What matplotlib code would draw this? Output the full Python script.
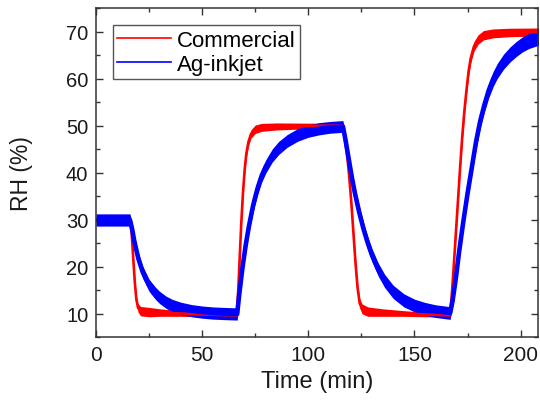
#!/usr/bin/env python
"""
Shows the RH response of a commercial and an Ag-inkjet humidity sensor.
"""
import matplotlib
matplotlib.use('Agg')
import matplotlib.pyplot as plt
from matplotlib.ticker import MultipleLocator
import numpy as np

# Commercial sensor: time / min, RH centre / %, width of the noise band / %
comm_time = [0, 16, 16.8, 17.5, 18.3, 19, 19.8, 21, 25, 30, 40, 50, 66.3,
             67, 67.7, 68.4, 69.2, 70, 70.8, 71.8, 73, 75, 78, 85, 100, 116.3,
             117.3, 118.2, 119.2, 120.2, 121.2, 122.2, 123.2, 124.2, 125.3,
             128, 135, 145, 155, 166.8,
             167.6, 168.5, 169.5, 170.5, 171.5, 172.5, 173.5, 174.5, 175.5,
             176.5, 178, 180, 182.5, 187, 195, 210]
comm_rh = [30, 30, 27, 22, 16.5, 13, 11.2, 10.5, 10.3, 10.2, 10.0, 9.8, 9.6,
           15, 22, 29, 35.5, 40.5, 44, 46.5, 48.2, 49.2, 49.6, 49.8, 49.9, 50.0,
           47, 44, 39.5, 34, 27.5, 21, 15.5, 12.2, 11.0,
           10.4, 10.2, 10.0, 9.8, 9.6,
           14, 20, 27, 34, 41, 47.5, 53, 57.5, 61.5,
           64.3, 66.8, 68.3, 69.2, 69.6, 69.8, 69.9]
comm_band = [1.0, 1.0, 1.0, 1.2, 1.4, 1.6, 1.8, 2.0, 2.0, 1.6, 1.2, 1.0, 0.8,
             0.8, 1.0, 1.2, 1.4, 1.6, 1.8, 1.8, 1.8, 1.8, 1.7, 1.5, 1.2, 1.0,
             1.2, 1.4, 1.6, 1.8, 2.0, 2.0, 2.0, 2.0, 2.1,
             2.0, 1.6, 1.2, 1.0, 0.8,
             1.0, 1.2, 1.4, 1.6, 1.8, 2.0, 2.0, 2.1, 2.1,
             2.1, 2.1, 2.0, 2.0, 1.9, 1.8, 1.7]

# Ag-inkjet sensor
ag_time = [0, 16, 17, 18, 19, 20, 22, 25, 28, 30, 33, 36, 40, 45, 50, 55,
           60, 66.5,
           67.5, 69, 70.5, 72, 74, 76, 78, 80, 83, 86, 90, 95, 100, 105,
           110, 116.3,
           117.5, 119, 120.5, 122, 124, 126, 128, 130, 133, 136, 140, 145,
           150, 155, 160, 166.8,
           168, 169.5, 171, 173, 175, 177, 179, 181, 183, 185, 187, 189, 192,
           195, 198, 201, 204, 208, 210]
ag_rh = [29.9, 29.9, 28.0, 25.5, 23.5, 21.6, 18.8, 16.0, 14.3, 13.4, 12.4,
         11.7, 11.1, 10.6, 10.3, 10.1, 10.0, 9.9,
         14.2, 19.8, 24.5, 28.5, 33, 36.5, 39.3, 41.3, 43.6, 45.2, 46.7, 48.0,
         48.8, 49.3, 49.6, 49.8,
         47, 43, 39, 35.5, 31.5, 28, 25, 22.4, 19.3, 16.9, 14.6, 12.8, 11.7,
         11.0, 10.5, 10.1,
         12.8, 17.5, 23, 29.5, 35.5, 41, 46.5, 51, 54.5, 57.5, 59.8, 61.6,
         63.6, 65.1, 66.3, 67.3, 68.0, 68.6, 68.9]
ag_band = [2.6, 2.6, 2.6, 2.6, 2.6, 2.6, 2.6, 2.6, 2.6, 2.6, 2.6, 2.6, 2.6,
           2.6, 2.6, 2.6, 2.6, 2.6,
           2.7, 2.8, 2.8, 2.8, 2.8, 2.8, 2.8, 2.8, 2.8, 2.8, 2.7, 2.7, 2.6,
           2.6, 2.5, 2.5,
           2.6, 2.7, 2.8, 2.8, 2.8, 2.8, 2.8, 2.8, 2.8, 2.8, 2.8, 2.8, 2.7,
           2.7, 2.7, 2.7,
           2.8, 2.9, 3.0, 3.0, 3.1, 3.1, 3.2, 3.2, 3.2, 3.2, 3.2, 3.2, 3.2,
           3.2, 3.2, 3.2, 3.2, 3.2, 3.2]

series_labels = ['Commercial', 'Ag-inkjet']


def draw_band(ax, time, rh, band, color, width, label):
    """
    Draws a noisy trace as a filled band with its centre line on top.
    """
    time = np.asarray(time)
    rh = np.asarray(rh)
    half = np.asarray(band) / 2
    ax.fill_between(time, rh - half, rh + half, color=color, linewidth=0)
    ax.plot(time, rh, color=color, linewidth=width, label=label,
            solid_joinstyle='round')


def plot():
    plt.rcParams['font.family'] = ['Liberation Sans', 'DejaVu Sans']
    fig = plt.figure(figsize=(5.4, 4.1), dpi=100)
    ax = fig.add_axes([0.1778, 0.1756, 0.8185, 0.8024])

    draw_band(ax, comm_time, comm_rh, comm_band, '#ff0000', 1.9,
              series_labels[0])
    draw_band(ax, ag_time, ag_rh, ag_band, '#0000ff', 3.3, series_labels[1])

    ax.set_xlim(0, 208.2)
    ax.set_ylim(5, 75)
    ax.xaxis.set_major_locator(MultipleLocator(50))
    ax.xaxis.set_minor_locator(MultipleLocator(25))
    ax.yaxis.set_major_locator(MultipleLocator(10))
    ax.yaxis.set_minor_locator(MultipleLocator(5))
    ax.set_yticks([10, 20, 30, 40, 50, 60, 70])
    ax.tick_params(which='both', direction='in', top=True, right=True,
                   colors='#333333', labelcolor='#1a1a1a', width=1.0)
    ax.tick_params(axis='x', labelsize=15, pad=6)
    ax.tick_params(axis='y', labelsize=14.5, pad=5.5)
    ax.tick_params(which='major', length=5)
    ax.tick_params(which='minor', length=3)
    for spine in ax.spines.values():
        spine.set_color('#333333')
        spine.set_linewidth(1.1)

    ax.set_xlabel('Time (min)', fontsize=17, color='#1a1a1a')
    ax.set_ylabel('RH (%)', fontsize=16.5, color='#1a1a1a')
    ax.xaxis.set_label_coords(0.5, -0.1)
    ax.yaxis.set_label_coords(-0.143, 0.5)

    legend = ax.legend(loc='upper left', bbox_to_anchor=(0.038, 0.948),
                       borderaxespad=0, fancybox=False, framealpha=1,
                       edgecolor='#555555', fontsize=16, handlelength=2.4,
                       handletextpad=0.3, borderpad=0.2, labelspacing=0.15)
    legend.get_frame().set_linewidth(1.0)
    for line in legend.get_lines():
        line.set_linewidth(1.2)

    fig.savefig('out.png', dpi=100)


def main():
    plot()


if __name__ == '__main__':
    main()
